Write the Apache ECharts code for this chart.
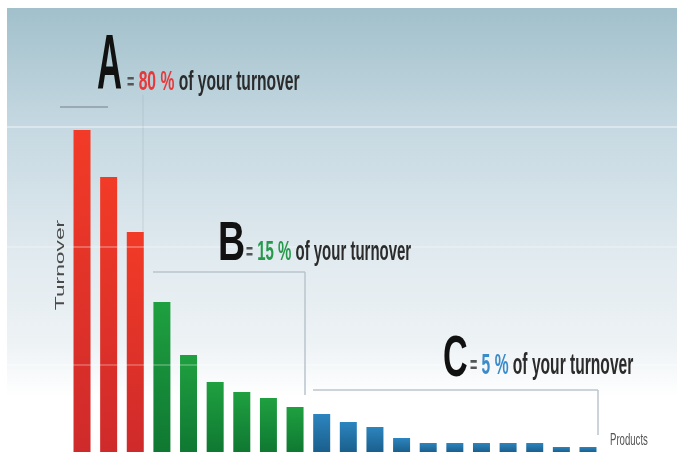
<!DOCTYPE html>
<html>
<head>
<meta charset="utf-8">
<script src="https://cdn.jsdelivr.net/npm/echarts@6/dist/echarts.min.js"></script>
<style>
  html, body { margin: 0; padding: 0; background: #ffffff; }
  #main { width: 677px; height: 472px; }
</style>
</head>
<body>
<div id="main"></div>
<script>
// ABC analysis: products sorted by turnover
const products = ['P1', 'P2', 'P3', 'P4', 'P5', 'P6', 'P7', 'P8', 'P9', 'P10',
  'P11', 'P12', 'P13', 'P14', 'P15', 'P16', 'P17', 'P18', 'P19', 'P20'];
const turnover = [322, 275, 220, 150, 97, 70, 60, 54, 45, 38,
  30, 25, 14, 9, 9, 9, 9, 9, 5, 5];
const productClass = ['A', 'A', 'A', 'B', 'B', 'B', 'B', 'B', 'B', 'C',
  'C', 'C', 'C', 'C', 'C', 'C', 'C', 'C', 'C', 'C'];
const classShare = { A: '80 %', B: '15 %', C: '5 %' };

const classColors = {
  A: ['#f23b27', '#cf2a2b'],
  B: ['#1fa040', '#0f7832'],
  C: ['#2c85bf', '#1a5f8c']
};
const shareColors = { A: '#e8383a', B: '#27994a', C: '#3a8bc9' };

const chart = echarts.init(document.getElementById('main'));

function grad(c) {
  return new echarts.graphic.LinearGradient(0, 0, 0, 1, [
    { offset: 0, color: c[0] },
    { offset: 1, color: c[1] }
  ]);
}

// big letter + "= xx % of your turnover"
function label(cls, o) {
  return [
    {
      type: 'text', x: o.lx, y: o.ly, scaleX: o.lsx, z: 100,
      style: {
        text: cls, align: 'left', verticalAlign: 'middle',
        fontSize: o.lfs, fontFamily: 'Liberation Sans', fontWeight: 'bold', fill: '#111'
      }
    },
    {
      type: 'text', x: o.tx, y: o.ty, scaleX: o.tsx, z: 100,
      style: {
        text: '{e|=} {p|' + classShare[cls] + '} {t|of your turnover}',
        align: 'left', verticalAlign: 'middle',
        fontSize: o.tfs, fontFamily: 'Liberation Sans', fontWeight: 'bold',
        rich: {
          e: { fontSize: o.tfs * 0.8, fill: '#555', fontWeight: 'bold' },
          p: { fontSize: o.tfs, fill: shareColors[cls], fontWeight: 'bold' },
          t: { fontSize: o.tfs, fill: '#2b2b2b', fontWeight: 'bold' }
        }
      }
    }
  ];
}

function seg(x1, y1, x2, y2, color, w) {
  return {
    type: 'line', z: 50,
    shape: { x1: x1, y1: y1, x2: x2, y2: y2 },
    style: { stroke: color, lineWidth: w }
  };
}

const option = {
  animation: false,
  grid: { left: 68.7, right: 75.7, top: 112, bottom: 20 },
  xAxis: {
    type: 'category',
    data: products,
    axisLine: { show: false },
    axisTick: { show: false },
    axisLabel: { show: false }
  },
  yAxis: {
    type: 'value',
    min: 0,
    max: 340,
    show: false,
    splitLine: { show: false }
  },
  graphic: [
    {
      type: 'rect', z: -10,
      shape: { x: 7, y: 8, width: 670, height: 464 },
      style: {
        fill: new echarts.graphic.LinearGradient(0, 0, 0, 1, [
          { offset: 0, color: '#a1c0cb' },
          { offset: 0.25, color: '#c5d8e1' },
          { offset: 0.55, color: '#e2ebf0' },
          { offset: 0.72, color: '#edf2f5' },
          { offset: 0.84, color: '#ffffff' },
          { offset: 1, color: '#ffffff' }
        ])
      }
    },
    // faint light bands across the picture
    seg(7, 127, 677, 127, 'rgba(255,255,255,0.5)', 1.5),
    seg(7, 247, 677, 247, 'rgba(255,255,255,0.35)', 1.5),
    seg(7, 365, 677, 365, 'rgba(255,255,255,0.3)', 1.5),
    // brackets
    seg(60, 107, 108, 107, '#8e9ca6', 1.5),
    seg(143, 95, 143, 232, 'rgba(150,165,175,0.35)', 1),
    seg(153, 272, 305, 272, '#b9c5cc', 1.5),
    seg(305, 272, 305, 395, '#b9c5cc', 1.5),
    seg(313, 390, 598, 390, '#bcc6cc', 1.5),
    seg(598, 390, 598, 435, '#bcc6cc', 1.5),
    ...label('A', { lx: 97, ly: 68, lsx: 0.45, lfs: 77, tx: 127, ty: 83, tsx: 0.58, tfs: 27 }),
    ...label('B', { lx: 218, ly: 245, lsx: 0.67, lfs: 56, tx: 246, ty: 253, tsx: 0.555, tfs: 27 }),
    ...label('C', { lx: 443, ly: 360, lsx: 0.6, lfs: 57, tx: 470, ty: 366, tsx: 0.52, tfs: 30 }),
    {
      type: 'text', x: 61, y: 265, rotation: Math.PI / 2, scaleX: 1.9, z: 100,
      style: {
        text: 'Turnover', align: 'center', verticalAlign: 'middle',
        fontSize: 12, fontFamily: 'Liberation Sans', fill: '#4a4a4a'
      }
    },
    {
      type: 'text', x: 610, y: 441, scaleX: 0.6, z: 100,
      style: {
        text: 'Products', align: 'left', verticalAlign: 'middle',
        fontSize: 16, fontFamily: 'Liberation Sans', fill: '#555'
      }
    }
  ],
  series: [
    {
      type: 'bar',
      barWidth: 17,
      data: turnover.map((v, i) => ({
        value: v,
        itemStyle: { color: grad(classColors[productClass[i]]) }
      }))
    }
  ]
};

chart.setOption(option);
</script>
</body>
</html>
